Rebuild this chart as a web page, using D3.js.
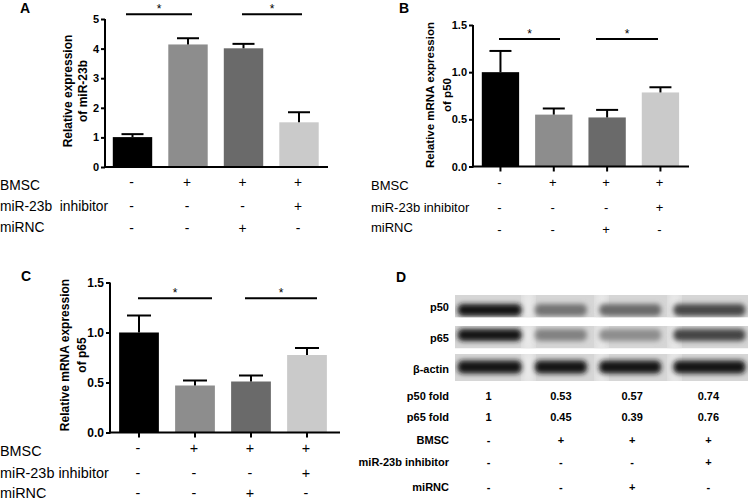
<!DOCTYPE html>
<html><head><meta charset="utf-8">
<script src="https://cdn.jsdelivr.net/npm/d3@7"></script>
<style>
body{margin:0;background:#fff;}
svg{display:block;font-family:"Liberation Sans",Arial,sans-serif;}
</style></head>
<body><svg id="c" width="750" height="503"></svg>
<script>
// ---------- data ----------
const groups = ["g1","g2","g3","g4"];
const bmsc = ["-","+","+","+"];
const inhibitor = ["-","-","-","+"];
const mirnc = ["-","-","+","-"];
const rowNames = ["BMSC","miR-23b inhibitor","miRNC"];
const rowNamesA = ["BMSC","miR-23b\u00a0 inhibitor","miRNC"];

const miR23b = [1.01, 4.14, 4.01, 1.51];
const miR23bErr = [0.10, 0.21, 0.15, 0.34];
const p50mRNA = [1.0, 0.55, 0.52, 0.785];
const p50mRNAErr = [0.225, 0.065, 0.08, 0.055];
const p65mRNA = [1.0, 0.47, 0.51, 0.775];
const p65mRNAErr = [0.17, 0.05, 0.06, 0.07];

const ticksA = [0,1,2,3,4,5];
const ticksBC = [0,0.5,1.0,1.5];

const p50Fold = [1, 0.53, 0.57, 0.74];
const p65Fold = [1, 0.45, 0.39, 0.76];
const actinFold = [1, 1, 1, 1];
const p50FoldLabels = ["1","0.53","0.57","0.74"];
const p65FoldLabels = ["1","0.45","0.39","0.76"];

const barColors = ["#000000","#8d8d8d","#6a6a6a","#cacaca"];

const svg = d3.select("#c");

function letter(t,x,y){
  svg.append("text").attr("x",x).attr("y",y).attr("font-size",14).attr("font-weight","bold").text(t);
}

function barPanel(o){
  const g = svg.append("g");
  const x = d3.scaleBand().domain(groups).range(o.xr).paddingInner(o.pin).paddingOuter(o.pin/2);
  const y = d3.scaleLinear().domain(o.yd).range(o.yr);
  g.selectAll("rect.bar").data(groups).join("rect")
    .attr("x",d=>x(d)).attr("width",x.bandwidth())
    .attr("y",(d,i)=>y(o.vals[i])).attr("height",(d,i)=>y(0)-y(o.vals[i]))
    .attr("fill",(d,i)=>barColors[i]);
  groups.forEach((d,i)=>{
    const cx = x(d)+x.bandwidth()/2;
    g.append("line").attr("x1",cx).attr("x2",cx).attr("y1",y(o.vals[i])).attr("y2",y(o.vals[i]+o.errs[i]))
      .attr("stroke","#000").attr("stroke-width",2);
    g.append("line").attr("x1",cx-o.cap).attr("x2",cx+o.cap).attr("y1",y(o.vals[i]+o.errs[i])).attr("y2",y(o.vals[i]+o.errs[i]))
      .attr("stroke","#000").attr("stroke-width",2);
  });
  const ax = g.append("g").attr("transform",`translate(${o.axX},0)`)
    .call(d3.axisLeft(y).tickValues(o.ticks).tickFormat(d3.format(o.fmt)).tickSize(4).tickSizeOuter(0).tickPadding(2));
  ax.select(".domain").attr("stroke-width",2).attr("d",`M0,${y(0)+1}V${y(o.yd[1])}`);
  ax.selectAll(".tick line").attr("stroke-width",2);
  ax.selectAll("text").attr("font-size",o.tfs).attr("font-weight","bold").attr("font-family","Liberation Sans, Arial, sans-serif").attr("fill","#000");
  g.append("line").attr("x1",o.axX-1).attr("x2",o.axEnd).attr("y1",y(0)).attr("y2",y(0)).attr("stroke","#000").attr("stroke-width",2);
  if(o.xticks){
    groups.forEach(d=>{
      const cx = x(d)+x.bandwidth()/2;
      g.append("line").attr("x1",cx).attr("x2",cx).attr("y1",y(0)).attr("y2",y(0)+5).attr("stroke","#000").attr("stroke-width",2);
    });
  }
  o.title.forEach((t,i)=>{
    g.append("text").attr("transform",`translate(${o.titleX[i]},${o.titleY}) rotate(-90)`)
      .attr("text-anchor","middle").attr("dominant-baseline","central")
      .attr("font-size",o.titleFs).attr("font-weight","bold").text(t);
  });
  o.sig.forEach(([x1,x2])=>{
    const yy = o.sigY;
    g.append("line").attr("x1",x1).attr("x2",x2).attr("y1",yy).attr("y2",yy).attr("stroke","#000").attr("stroke-width",2);
    g.append("text").attr("x",(x1+x2)/2).attr("y",yy-1).attr("text-anchor","middle").attr("font-size",12).text("*");
  });
  const rowsData = [bmsc,inhibitor,mirnc];
  rowsData.forEach((row,r)=>{
    g.append("text").attr("x",o.labX).attr("y",o.rowY[r]).attr("dominant-baseline","central")
      .attr("font-size",o.rowFs).text(o.rowNames[r]);
    row.forEach((s,i)=>{
      g.append("text").attr("x",x(groups[i])+x.bandwidth()/2-1).attr("y",o.signY[r]).attr("dominant-baseline","central")
        .attr("text-anchor","middle").attr("font-size",o.rowFs).text(s);
    });
  });
}

// Panel A
letter("A",20,12.5);
barPanel({xr:[104.75,326.75],pin:0.29,yd:[0,5],yr:[167,19],vals:miR23b,errs:miR23bErr,cap:11,
  axX:105,axEnd:328,ticks:ticksA,fmt:"d",tfs:11,xticks:false,
  title:["Relative expression","of miR-23b"],titleX:[68,83],titleY:91,titleFs:12,
  sigY:14.3,sig:[[126,192],[242,302]],
  labX:0,rowY:[185,206,227],signY:[182,206,228],rowFs:13.8,rowNames:rowNamesA});

// Panel B
letter("B",399,12.5);
barPanel({xr:[473.8,687.1],pin:0.3,yd:[0,1.5],yr:[166.5,25],vals:p50mRNA,errs:p50mRNAErr,cap:11,
  axX:473,axEnd:689,ticks:ticksBC,fmt:".1f",tfs:11,xticks:true,
  title:["Relative mRNA expression","of p50"],titleX:[430,447],titleY:95,titleFs:11.5,
  sigY:39,sig:[[499,560],[596,658]],
  labX:371,rowY:[185,207,227],signY:[182,207,229],rowFs:13,rowNames:rowNames});

// Panel C
letter("C",21,281);
barPanel({xr:[111,335],pin:0.29,yd:[0,1.5],yr:[432.5,282.5],vals:p65mRNA,errs:p65mRNAErr,cap:12,
  axX:110,axEnd:340,ticks:ticksBC,fmt:".1f",tfs:12,xticks:true,
  title:["Relative mRNA expression","of p65"],titleX:[65,82],titleY:355,titleFs:12,
  sigY:298.3,sig:[[138,212],[245,317]],
  labX:0,rowY:[451,473,493],signY:[448,473,493],rowFs:14.4,rowNames:rowNames});

// Panel D
letter("D",396,282);
const defs = svg.append("defs");
defs.append("filter").attr("id","blur").attr("x","-20%").attr("y","-60%").attr("width","140%").attr("height","220%")
  .append("feGaussianBlur").attr("stdDeviation",2.6);
defs.append("filter").attr("id","blur2").attr("x","-10%").attr("y","-30%").attr("width","120%").attr("height","160%")
  .append("feGaussianBlur").attr("stdDeviation",4);

const lane = d3.scaleBand().domain(groups).range([455,748]).paddingInner(0.12).paddingOuter(0.06);
const laneC = d => lane(d)+lane.bandwidth()/2;
const shade = d3.scaleLinear().domain([0.35,1]).range([150,22]).clamp(true);
const strips = [
  {name:"p50",fold:p50Fold,y0:295,y1:317.5,by:310,bh:12},
  {name:"p65",fold:p65Fold,y0:326,y1:348.5,by:335,bh:12},
  {name:"\u03b2-actin",fold:actinFold,y0:354,y1:381,by:367,bh:13}
];
const laneW = [64,52,62,72];
const laneOff = [-2,-4,-8,-2];
const D = svg.append("g");
strips.forEach(s=>{
  const cp = "clip-"+s.y0;
  defs.append("clipPath").attr("id",cp).append("rect").attr("x",455).attr("y",s.y0).attr("width",293).attr("height",s.y1-s.y0);
  const sg = D.append("g").attr("clip-path",`url(#${cp})`);
  sg.append("rect").attr("x",455).attr("y",s.y0).attr("width",293).attr("height",s.y1-s.y0).attr("fill","#d6d6d6");
  groups.forEach((d,i)=>{
    if(i<3){
      const xm = (laneC(groups[i])+laneC(groups[i+1]))/2;
      sg.append("rect").attr("x",xm-6).attr("y",s.y0-5).attr("width",12).attr("height",s.y1-s.y0+10)
        .attr("fill","#ebebeb").attr("filter","url(#blur2)");
    }
  });
  groups.forEach((d,i)=>{
    const v = Math.round(shade(s.fold[i]));
    const c = `rgb(${v},${v},${v})`;
    const cx = laneC(d)+laneOff[i];
    sg.append("rect").attr("x",cx-laneW[i]/2).attr("y",s.by-s.bh/2).attr("width",laneW[i]).attr("height",s.bh)
      .attr("rx",5).attr("fill",c).attr("filter","url(#blur)");
  });
  D.append("text").attr("x",449).attr("y",(s.y0+s.y1)/2+1).attr("text-anchor","end").attr("dominant-baseline","central")
    .attr("font-size",11).attr("font-weight","bold").text(s.name);
});
const tableRows = [
  {name:"p50 fold",vals:p50FoldLabels,y:396},
  {name:"p65 fold",vals:p65FoldLabels,y:417},
  {name:"BMSC",vals:bmsc,y:440},
  {name:"miR-23b inhibitor",vals:inhibitor,y:462},
  {name:"miRNC",vals:mirnc,y:487}
];
tableRows.forEach(r=>{
  D.append("text").attr("x",449).attr("y",r.y).attr("text-anchor","end").attr("dominant-baseline","central")
    .attr("font-size",11).attr("font-weight","bold").text(r.name);
  r.vals.forEach((v,i)=>{
    D.append("text").attr("x",laneC(groups[i])+laneOff[i]/2-2).attr("y",r.y).attr("text-anchor","middle").attr("dominant-baseline","central")
      .attr("font-size",11).attr("font-weight","bold").text(v);
  });
});
</script></body></html>
